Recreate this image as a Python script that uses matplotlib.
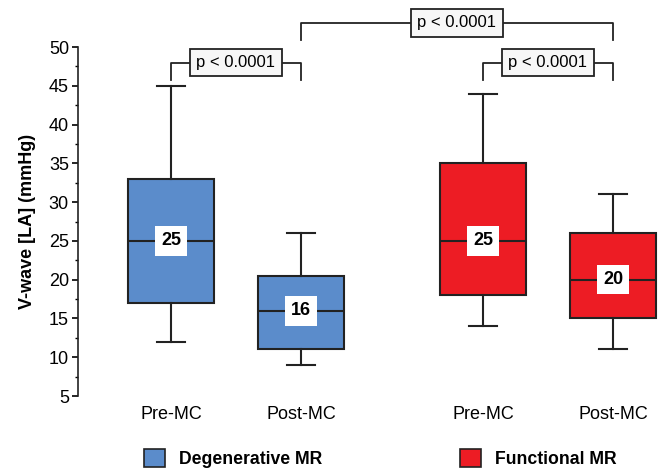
import matplotlib
matplotlib.use("Agg")
from matplotlib import pyplot as plt
from matplotlib.patches import Patch
from matplotlib.ticker import MultipleLocator

plt.rcParams['font.family'] = ['Liberation Sans', 'DejaVu Sans']

# Data
groups = ["Degenerative MR", "Functional MR"]
labels = ["Pre-MC", "Post-MC", "Pre-MC", "Post-MC"]
medians = [25, 16, 25, 20]
q1 = [17, 11, 18, 15]
q3 = [33, 20.5, 35, 26]
whisker_lo = [12, 9, 14, 11]
whisker_hi = [45, 26, 44, 31]
p_texts = ["p < 0.0001", "p < 0.0001", "p < 0.0001"]

colors = ["#5b8ccb", "#5b8ccb", "#ed1c24", "#ed1c24"]
positions = [0, 1, 2.4, 3.4]

fig = plt.figure(figsize=(6.63, 4.72), dpi=100)
ax = fig.add_axes([0.1176, 0.161, 0.8824, 0.7394])

stats = []
for i in range(len(labels)):
    stats.append(dict(med=medians[i], q1=q1[i], q3=q3[i],
                      whislo=whisker_lo[i], whishi=whisker_hi[i], fliers=[]))

edge = "#222222"
bp = ax.bxp(stats, positions=positions, widths=0.66, capwidths=0.21,
            patch_artist=True, showfliers=False,
            boxprops=dict(edgecolor=edge, linewidth=1.5),
            medianprops=dict(color=edge, linewidth=1.5),
            whiskerprops=dict(color=edge, linewidth=1.5),
            capprops=dict(color=edge, linewidth=1.5))
for patch, c in zip(bp['boxes'], colors):
    patch.set_facecolor(c)

# median value labels
for x, m in zip(positions, medians):
    ax.text(x, m, f"{m:g}", ha='center', va='center', fontsize=13,
            fontweight='bold', zorder=5,
            bbox=dict(boxstyle='square,pad=0.35', facecolor='white',
                      edgecolor='none'))

# significance brackets
def bracket(x1, x2, y_low, y_top, text):
    ax.plot([x1, x1, x2, x2], [y_low, y_top, y_top, y_low], color=edge,
            linewidth=1.3, clip_on=False, zorder=3)
    ax.text((x1 + x2) / 2, y_top, text, ha='center', va='center',
            fontsize=12, zorder=4,
            bbox=dict(boxstyle='square,pad=0.38', facecolor='#f7f7f7',
                      edgecolor=edge, linewidth=1.3))

bracket(positions[0], positions[1], 45.7, 48.0, p_texts[0])
bracket(positions[2], positions[3], 45.7, 48.0, p_texts[1])
bracket(positions[1], positions[3], 50.9, 53.1, p_texts[2])

ax.set_ylim(5, 50)
ax.set_xlim(-0.715, 3.785)
ax.yaxis.set_major_locator(MultipleLocator(5))
ax.yaxis.set_minor_locator(MultipleLocator(2.5))
ax.tick_params(axis='y', which='major', length=4.5, width=1.2, labelsize=13, pad=2)
ax.tick_params(axis='y', which='minor', length=2.5, width=1.0)
ax.set_xticks(positions, labels)
ax.tick_params(axis='x', length=0, labelsize=13, pad=7)

for s in ['top', 'right', 'bottom']:
    ax.spines[s].set_visible(False)
ax.spines['left'].set_linewidth(1.2)
ax.spines['left'].set_color(edge)

ax.set_ylabel("V-wave [LA] (mmHg)", fontsize=13, fontweight='bold', labelpad=9)

handles = [Patch(facecolor=colors[0], edgecolor=edge, linewidth=1.2),
           Patch(facecolor=colors[2], edgecolor=edge, linewidth=1.2)]
fig.legend(handles, groups, loc='center', bbox_to_anchor=(0.574, 0.028),
           ncol=2, frameon=False, handlelength=1.2, handleheight=1.2,
           handletextpad=0.8, columnspacing=7.8,
           prop=dict(size=12.7, weight='bold'))

fig.savefig("out.png", dpi=100)
